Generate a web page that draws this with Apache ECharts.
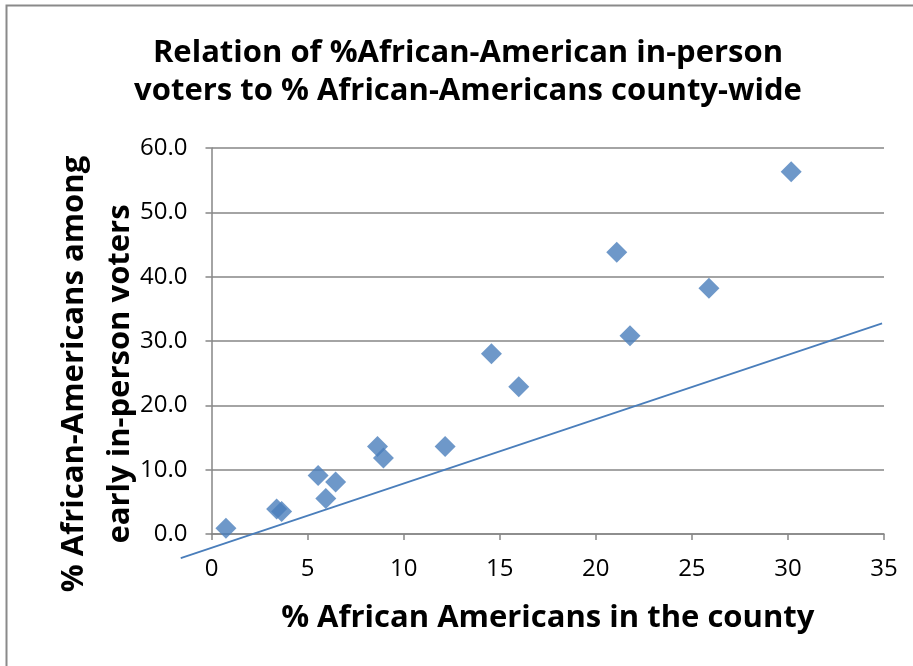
<!DOCTYPE html>
<html>
<head>
<meta charset="utf-8">
<script src="https://cdn.jsdelivr.net/npm/echarts@6/dist/echarts.min.js"></script>
<style>
  html, body { margin: 0; padding: 0; background: #fff; }
  #chart { width: 913px; height: 666px; }
</style>
</head>
<body>
<div id="chart"></div>
<script>
// Percent African-American population per county (x) and share among early in-person voters (y)
const countyPct = [0.75, 3.39, 3.65, 5.55, 6.46, 5.95, 8.64, 8.95, 12.16, 14.57, 15.99, 21.78, 25.89, 21.09, 30.17];
const voterPct  = [0.9, 3.9, 3.5, 9.1, 8.1, 5.5, 13.6, 11.8, 13.6, 28.0, 22.9, 30.8, 38.2, 43.8, 56.3];

// Straight reference line, given by its two end points (it starts left of the y axis)
const refLineX = [-1.6, 34.9];
const refLineY = [-3.75, 32.75];

const xTicks = [0, 5, 10, 15, 20, 25, 30, 35];
const yTicks = [0, 10, 20, 30, 40, 50, 60];

const titleText = 'Relation of %African-American in-person\nvoters to % African-Americans county-wide';
const xTitle = '% African Americans in the county';
const yTitle = '% African-Americans among\nearly in-person voters';

const FONT = "'Open Sans', 'Liberation Sans', sans-serif";
const BLUE = '#4A7EBB';
const GRAY = '#868686';

// Plot area placement
const PLOT = { left: 211.5, right: 29, top: 148, bottom: 132 };
// A second, invisible coordinate system with the same scale but a wider range,
// so the reference line can run past the left/bottom edge of the plot area.
const EXT_XMIN = -2, EXT_YMIN = -5;
const W = 913, H = 666;
const pxPerX = (W - PLOT.left - PLOT.right) / (xTicks[xTicks.length - 1] - xTicks[0]);
const pxPerY = (H - PLOT.top - PLOT.bottom) / (yTicks[yTicks.length - 1] - yTicks[0]);

const points = countyPct.map((x, i) => [x, voterPct[i]]);
const linePts = refLineX.map((x, i) => [x, refLineY[i]]);

const chart = echarts.init(document.getElementById('chart'), null, { renderer: 'canvas' });
chart.setOption({
  backgroundColor: '#fff',
  animation: false,
  title: {
    text: titleText,
    left: 463,
    textAlign: 'center',
    top: 29,
    textStyle: { fontFamily: FONT, fontWeight: 'bold', fontSize: 31, lineHeight: 38, color: '#000' }
  },
  grid: [
    { left: PLOT.left, right: PLOT.right, top: PLOT.top, bottom: PLOT.bottom },
    { left: PLOT.left + EXT_XMIN * pxPerX, right: PLOT.right, top: PLOT.top,
      bottom: PLOT.bottom + EXT_YMIN * pxPerY }
  ],
  xAxis: [
    {
      type: 'value',
      gridIndex: 0,
      min: xTicks[0],
      max: xTicks[xTicks.length - 1],
      interval: 5,
      name: xTitle,
      nameLocation: 'middle',
      nameGap: 69,
      nameTextStyle: { fontFamily: FONT, fontWeight: 'bold', fontSize: 31, color: '#000' },
      axisLine: { show: true, onZero: false, lineStyle: { color: GRAY, width: 1.5 } },
      axisTick: { show: true, inside: false, length: 6, lineStyle: { color: GRAY, width: 1.5 } },
      axisLabel: { margin: 23, fontFamily: FONT, fontSize: 24, color: '#000' },
      splitLine: { show: false }
    },
    {
      type: 'value',
      gridIndex: 1,
      min: EXT_XMIN,
      max: xTicks[xTicks.length - 1],
      show: false
    }
  ],
  yAxis: [
    {
      type: 'value',
      gridIndex: 0,
      min: yTicks[0],
      max: yTicks[yTicks.length - 1],
      interval: 10,
      axisLine: { show: true, onZero: false, lineStyle: { color: GRAY, width: 1.5 } },
      axisTick: { show: true, inside: false, length: 6, lineStyle: { color: GRAY, width: 1.5 } },
      axisLabel: { margin: 24, fontFamily: FONT, fontSize: 24, color: '#000',
                   formatter: v => v.toFixed(1) },
      splitLine: { show: true, lineStyle: { color: GRAY, width: 1.5 } }
    },
    {
      type: 'value',
      gridIndex: 1,
      min: EXT_YMIN,
      max: yTicks[yTicks.length - 1],
      show: false
    }
  ],
  graphic: [
    {
      type: 'rect',
      shape: { x: 6.5, y: 5.5, width: 940, height: 700 },
      style: { fill: 'none', stroke: '#8a8a8a', lineWidth: 2 },
      silent: true,
      z: 100
    },
    {
      type: 'text',
      x: 97,
      y: 374,
      rotation: Math.PI / 2,
      style: {
        text: yTitle,
        fontFamily: FONT,
        fontWeight: 'bold',
        fontSize: 31,
        lineHeight: 46,
        fill: '#000',
        align: 'center',
        verticalAlign: 'middle'
      }
    }
  ],
  series: [
    {
      type: 'line',
      xAxisIndex: 1,
      yAxisIndex: 1,
      data: linePts,
      clip: false,
      showSymbol: false,
      symbol: 'none',
      lineStyle: { color: BLUE, width: 1.8 },
      z: 2
    },
    {
      type: 'scatter',
      xAxisIndex: 0,
      yAxisIndex: 0,
      data: points,
      symbol: 'diamond',
      symbolSize: [21, 21],
      itemStyle: { color: BLUE },
      z: 3
    }
  ]
});
</script>
</body>
</html>
